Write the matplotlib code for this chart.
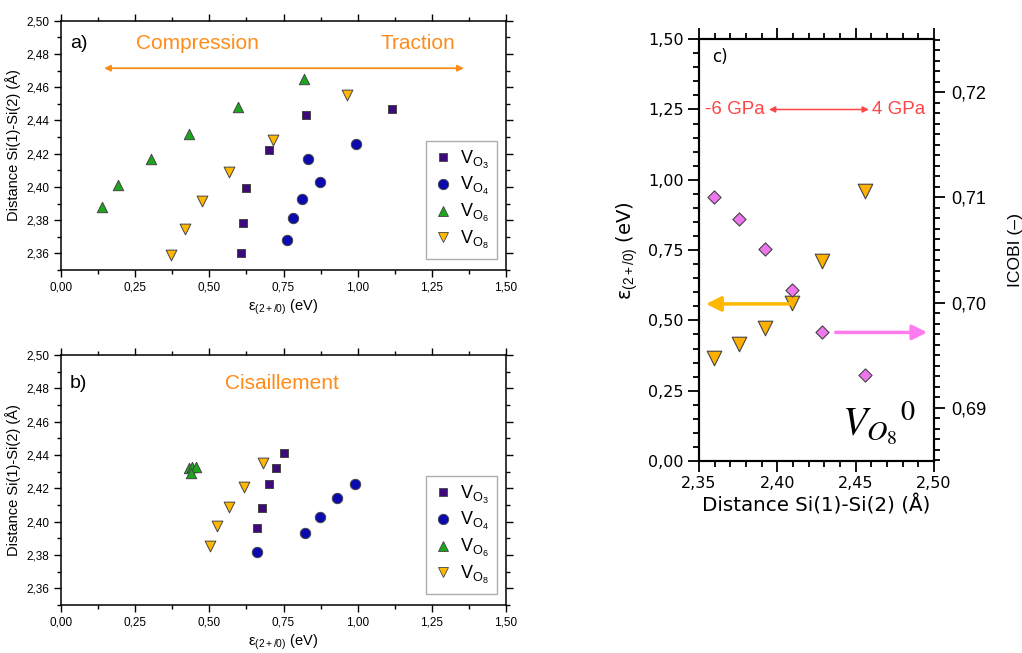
import matplotlib
matplotlib.use('Agg')
import matplotlib.pyplot as plt
from matplotlib.ticker import MultipleLocator, FuncFormatter
from matplotlib.lines import Line2D

plt.rcParams['font.family'] = 'Liberation Sans'
plt.rcParams['mathtext.fontset'] = 'custom'
plt.rcParams['mathtext.rm'] = 'Liberation Sans'
plt.rcParams['mathtext.it'] = 'Liberation Sans:italic'

# panel a : compression / traction  (x = epsilon(2+/0) in eV, y = Si-Si distance)
a_vo3_x = [0.607, 0.614, 0.624, 0.701, 0.827, 1.116]
a_vo3_y = [2.360, 2.3785, 2.3995, 2.422, 2.443, 2.447]
a_vo4_x = [0.762, 0.783, 0.813, 0.874, 0.831, 0.995]
a_vo4_y = [2.368, 2.381, 2.393, 2.403, 2.4166, 2.4258]
a_vo6_x = [0.139, 0.192, 0.302, 0.432, 0.596, 0.818]
a_vo6_y = [2.388, 2.401, 2.4166, 2.432, 2.448, 2.465]
a_vo8_x = [0.370, 0.417, 0.475, 0.565, 0.715, 0.964]
a_vo8_y = [2.359, 2.3746, 2.3917, 2.409, 2.428, 2.4555]

# panel b : cisaillement
b_vo3_x = [0.661, 0.679, 0.701, 0.724, 0.752]
b_vo3_y = [2.396, 2.4083, 2.4224, 2.432, 2.4414]
b_vo4_x = [0.662, 0.822, 0.874, 0.931, 0.990]
b_vo4_y = [2.3819, 2.393, 2.403, 2.4144, 2.4224]
b_vo6_x = [0.432, 0.440, 0.455, 0.437]
b_vo6_y = [2.432, 2.433, 2.433, 2.429]
b_vo8_x = [0.503, 0.527, 0.565, 0.617, 0.680]
b_vo8_y = [2.3855, 2.3975, 2.409, 2.4208, 2.435]

# panel c : V_O8 neutral
c_dist = [2.3598, 2.3753, 2.3923, 2.4095, 2.4284, 2.4560]
c_eps = [0.368, 0.415, 0.474, 0.563, 0.712, 0.961]
c_icobi = [0.71007, 0.70795, 0.70509, 0.70119, 0.69716, 0.69310]

labels = [r'V$_{\mathrm{O}_3}$', r'V$_{\mathrm{O}_4}$', r'V$_{\mathrm{O}_6}$', r'V$_{\mathrm{O}_8}$']
colors = ['#3d0a7a', '#0a0ab0', '#1ea51e', '#ffb800']
markers = ['s', 'o', '^', 'v']
msizes = [36, 56, 56, 60]
orange = '#ff8c1a'
red = '#ff4545'

comma2 = FuncFormatter(lambda v, p: f'{v:.2f}'.replace('.', ','))

fig = plt.figure(figsize=(10.22, 6.53), dpi=100)
ax_a = fig.add_axes([0.0597, 0.5865, 0.4354, 0.3818])
ax_b = fig.add_axes([0.0597, 0.0735, 0.4354, 0.3828])
ax_c = fig.add_axes([0.684, 0.294, 0.230, 0.646])


def style_ab(ax):
    ax.set_xlim(0, 1.5)
    ax.set_ylim(2.35, 2.50)
    ax.xaxis.set_major_locator(MultipleLocator(0.25))
    ax.xaxis.set_minor_locator(MultipleLocator(0.125))
    ax.yaxis.set_major_locator(MultipleLocator(0.02))
    ax.yaxis.set_minor_locator(MultipleLocator(0.01))
    ax.xaxis.set_major_formatter(comma2)
    ax.yaxis.set_major_formatter(comma2)
    ax.tick_params(which='both', direction='out', top=True, right=True, width=1, labelsize=8.5)
    ax.tick_params(which='major', length=5)
    ax.tick_params(which='minor', length=3)
    for s in ax.spines.values():
        s.set_linewidth(1.1)
    ax.set_xlabel('ε$_{(2+/0)}$ (eV)', fontsize=10.5, labelpad=3)
    ax.set_ylabel('Distance Si(1)-Si(2) (Å)', fontsize=10.5, labelpad=4)


def scatter_set(ax, xs, ys):
    for x, y, c, m, s in zip(xs, ys, colors, markers, msizes):
        ax.scatter(x, y, s=s, c=c, marker=m, edgecolors='#444444', linewidths=0.7, zorder=3)


def legend_ab(ax):
    handles = [Line2D([], [], ls='none', marker=m, color=c, markeredgecolor='#444444',
                      markeredgewidth=0.6, markersize=ms ** 0.5)
               for m, c, ms in zip(markers, colors, msizes)]
    ax.legend(handles, labels, loc='lower right', bbox_to_anchor=(0.98, 0.045),
              fontsize=13, frameon=True, fancybox=False, edgecolor='#999999',
              handletextpad=0.45, labelspacing=0.25, borderpad=0.45, handlelength=1.0,
              borderaxespad=0)


# panel a
scatter_set(ax_a, [a_vo3_x, a_vo4_x, a_vo6_x, a_vo8_x], [a_vo3_y, a_vo4_y, a_vo6_y, a_vo8_y])
style_ab(ax_a)
legend_ab(ax_a)
ax_a.text(0.03, 2.486, 'a)', fontsize=14, va='center')
ax_a.text(0.253, 2.486, 'Compression', fontsize=15, color=orange, va='center')
ax_a.text(1.078, 2.486, 'Traction', fontsize=15, color=orange, va='center')
ax_a.annotate('', xy=(0.145, 2.4714), xytext=(1.358, 2.4714),
              arrowprops=dict(arrowstyle='<|-|>', color=orange, lw=1.3,
                              mutation_scale=9, shrinkA=0, shrinkB=0))

# panel b
scatter_set(ax_b, [b_vo3_x, b_vo4_x, b_vo6_x, b_vo8_x], [b_vo3_y, b_vo4_y, b_vo6_y, b_vo8_y])
style_ab(ax_b)
legend_ab(ax_b)
ax_b.text(0.03, 2.483, 'b)', fontsize=14, va='center')
ax_b.text(0.553, 2.483, 'Cisaillement', fontsize=15, color=orange, va='center')

# panel c
ax_r = ax_c.twinx()
ax_c.scatter(c_dist, c_eps, s=110, marker='v', c='#ffb000', edgecolors='#444444',
             linewidths=0.8, zorder=3)
ax_r.scatter(c_dist, c_icobi, s=45, marker='D', c='#ee77ee', edgecolors='#444444',
             linewidths=0.8, zorder=3)
ax_c.set_xlim(2.35, 2.50)
ax_c.set_ylim(0, 1.5)
ax_r.set_ylim(0.68493, 0.72504)
ax_c.xaxis.set_major_locator(MultipleLocator(0.05))
ax_c.xaxis.set_minor_locator(MultipleLocator(0.01))
ax_c.yaxis.set_major_locator(MultipleLocator(0.25))
ax_c.yaxis.set_minor_locator(MultipleLocator(0.05))
ax_r.yaxis.set_major_locator(MultipleLocator(0.01))
ax_r.yaxis.set_minor_locator(MultipleLocator(0.001))
ax_c.xaxis.set_major_formatter(comma2)
ax_c.yaxis.set_major_formatter(comma2)
ax_r.yaxis.set_major_formatter(comma2)
ax_c.tick_params(which='both', direction='out', top=True, right=False, width=1.3)
ax_c.tick_params(which='major', length=8, labelsize=11.5, labelfontfamily='DejaVu Sans', pad=3)
ax_c.tick_params(which='minor', length=4)
ax_r.tick_params(which='both', direction='out', width=1.3)
ax_r.tick_params(which='major', length=8, labelsize=13, pad=4)
ax_r.tick_params(which='minor', length=4)
for s in list(ax_c.spines.values()) + list(ax_r.spines.values()):
    s.set_linewidth(1.5)
ax_c.set_xlabel('Distance Si(1)-Si(2) (Å)', fontsize=14.3, family='DejaVu Sans', labelpad=2)
ax_c.set_ylabel('ε$_{(2+/0)}$ (eV)', fontsize=14, family='DejaVu Sans', labelpad=6)
ax_r.set_ylabel('ICOBI (–)', fontsize=12.6, labelpad=16)

ax_c.text(2.3585, 1.435, 'c)', fontsize=12, family='DejaVu Sans', va='center')
ax_c.text(2.3538, 1.25, '-6 GPa', fontsize=13.5, color=red, va='center')
ax_c.text(2.4605, 1.25, '4 GPa', fontsize=13.5, color=red, va='center')
ax_c.annotate('', xy=(2.3946, 1.25), xytext=(2.4584, 1.25),
              arrowprops=dict(arrowstyle='<|-|>', color=red, lw=1.1,
                              mutation_scale=9, shrinkA=0, shrinkB=0))
ax_c.annotate('', xy=(2.3545, 0.5586), xytext=(2.4082, 0.5586),
              arrowprops=dict(arrowstyle='-|>', color='#ffb800', lw=2.5,
                              mutation_scale=22, shrinkA=0, shrinkB=0))
ax_r.annotate('', xy=(2.4956, 0.69716), xytext=(2.4372, 0.69716),
              arrowprops=dict(arrowstyle='-|>', color='#ff7cf0', lw=2.5,
                              mutation_scale=22, shrinkA=0, shrinkB=0))
ax_c.text(2.465, 0.135, r'$V_{O_{\mathrm{8}}}{}^{\mathrm{0}}$', fontsize=29, math_fontfamily='stix',
          ha='center', va='center')

fig.savefig('out.png', dpi=100)
